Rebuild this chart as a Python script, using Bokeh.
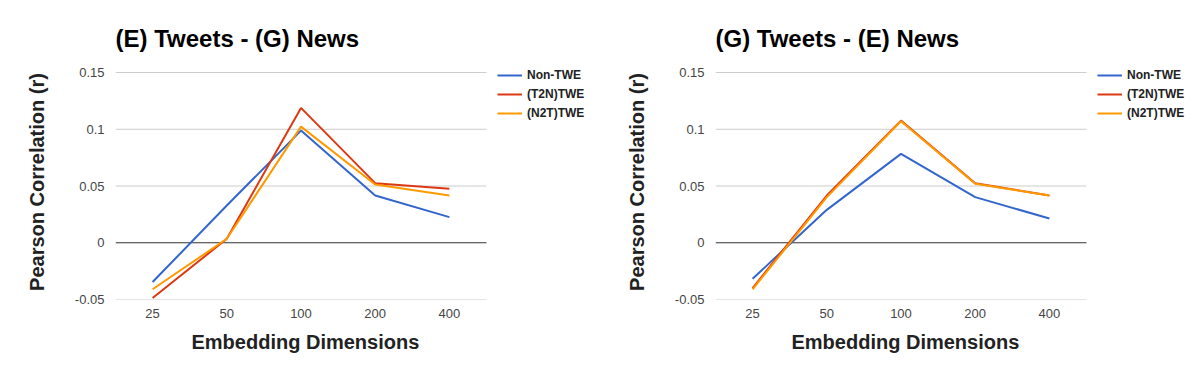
from bokeh.plotting import figure
from bokeh.models import Range1d, FixedTicker, Legend, LegendItem, Title
from bokeh.layouts import row
from bokeh.embed import file_html
from bokeh.resources import INLINE

dims = ["25", "50", "100", "200", "400"]
y_ticks = [-0.05, 0, 0.05, 0.1, 0.15]
y_tick_labels = ["-0.05", "0", "0.05", "0.1", "0.15"]
series_names = ["Non-TWE", "(T2N)TWE", "(N2T)TWE"]
colors = ["#3366cc", "#dc3912", "#ff9900"]

# (E) Tweets - (G) News
left_non_twe = [-0.0346, 0.0328, 0.0988, 0.0416, 0.0226]
left_t2n = [-0.0487, 0.0035, 0.1188, 0.0525, 0.0475]
left_n2t = [-0.0410, 0.0035, 0.1023, 0.0513, 0.0416]

# (G) Tweets - (E) News
right_non_twe = [-0.0317, 0.0290, 0.0783, 0.0402, 0.0214]
right_t2n = [-0.0399, 0.0416, 0.1076, 0.0525, 0.0416]
right_n2t = [-0.0410, 0.0402, 0.1070, 0.0520, 0.0416]

FONT = "Liberation Sans"
PLOT_W = 371      # width of the category area
PLOT_H = 227      # height of the value area
LEGEND_W = 114    # extra room on the right for the legend
TOP_PAD = 8       # extra room above the top grid line for the legend


def make_chart(title, series):
    n = len(dims)
    xs = list(range(n))
    px_per_unit = PLOT_W / n
    x_end = n - 0.5 + LEGEND_W / px_per_unit
    y_span = y_ticks[-1] - y_ticks[0]
    y_end = y_ticks[-1] + TOP_PAD * y_span / PLOT_H
    p = figure(x_range=Range1d(-0.5, x_end), y_range=Range1d(y_ticks[0], y_end),
               frame_width=PLOT_W + LEGEND_W, frame_height=PLOT_H + TOP_PAD,
               min_border_left=115, min_border_right=0,
               min_border_top=72 - TOP_PAD, min_border_bottom=72,
               output_backend="svg", toolbar_location=None)
    p.outline_line_color = None
    p.title.text = title
    p.title.text_font = FONT
    p.title.text_font_size = "24px"
    p.title.text_font_style = "bold"
    p.title.text_color = "#000000"
    p.title.align = "left"
    p.title.standoff = 26

    # horizontal grid lines over the category area only; the zero line is dark
    grid_colors = ["#333333" if t == 0 else "#cccccc" for t in y_ticks]
    p.segment(x0=[-0.5] * len(y_ticks), x1=[n - 0.5] * len(y_ticks), y0=y_ticks, y1=y_ticks,
              line_color=grid_colors, line_width=1)

    renderers = []
    for vals, c in zip(series, colors):
        r = p.line(xs, vals, line_color=c, line_width=2)
        renderers.append(r)

    p.xaxis.ticker = FixedTicker(ticks=xs)
    p.xaxis.major_label_overrides = dict(zip(xs, dims))
    p.yaxis.ticker = FixedTicker(ticks=y_ticks)
    p.yaxis.major_label_overrides = dict(zip(y_ticks, y_tick_labels))
    for ax in (p.xaxis[0], p.yaxis[0]):
        ax.axis_line_color = None
        ax.major_tick_line_color = None
        ax.minor_tick_line_color = None
        ax.major_label_text_font = FONT
        ax.major_label_text_font_size = "13px"
        ax.major_label_text_color = "#444444"
        ax.axis_label_text_font = FONT
        ax.axis_label_text_font_size = "20px"
        ax.axis_label_text_font_style = "bold"
        ax.axis_label_text_color = "#222222"
    p.xaxis.major_label_standoff = 3
    p.xaxis.bounds = (-0.5, n - 0.5)
    xt = Title(text="Embedding Dimensions", align="left", offset=76, standoff=16,
               text_font=FONT, text_font_size="20px", text_font_style="bold",
               text_color="#222222")
    p.add_layout(xt, "below")
    p.yaxis.axis_label = "Pearson Correlation (r)"
    p.yaxis.major_label_standoff = 5
    p.yaxis.axis_label_standoff = 24

    p.xgrid.grid_line_color = None
    p.ygrid.grid_line_color = None

    items = [LegendItem(label=nm, renderers=[r]) for nm, r in zip(series_names, renderers)]
    legend = Legend(items=items, location=(PLOT_W + 11, 179), padding=0, margin=0,
                    border_line_color=None, background_fill_alpha=0,
                    spacing=5, glyph_width=25, glyph_height=14,
                    label_height=14, label_standoff=5,
                    label_text_font=FONT, label_text_font_size="12px",
                    label_text_font_style="bold", label_text_color="#222222")
    p.add_layout(legend, "center")
    return p


p1 = make_chart("(E) Tweets - (G) News", [left_non_twe, left_t2n, left_n2t])
p2 = make_chart("(G) Tweets - (E) News", [right_non_twe, right_t2n, right_n2t])
p = row(p1, p2)

open("out.html", "w").write(file_html(p, INLINE))
